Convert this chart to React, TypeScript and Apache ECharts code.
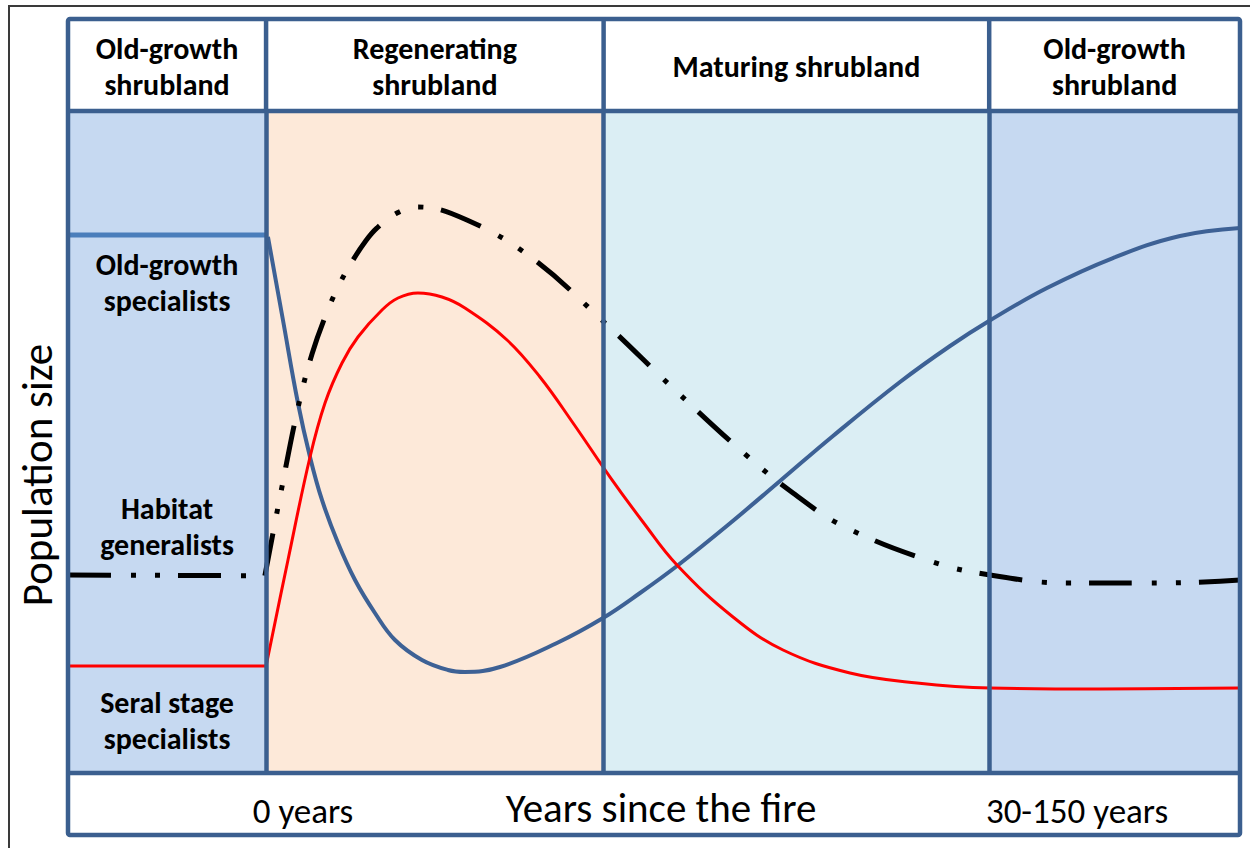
import React, { useEffect, useRef } from "react";
import * as echarts from "echarts";

// ---- data (x: relative time since fire 0-100, y: relative population size 0-100) ----
const stageNames = [
  "Old-growth\nshrubland",
  "Regenerating\nshrubland",
  "Maturing shrubland",
  "Old-growth\nshrubland",
];
const stageBounds = [0, 16.9, 45.7, 78.6, 100];
const stageColors = ["#C6D9F1", "#FDE9D9", "#DBEEF4", "#C6D9F1"];

const guildLabels = ["Old-growth\nspecialists", "Habitat\ngeneralists", "Seral stage\nspecialists"];
const xTickLabels = ["0 years", "30-150 years"];
const xAxisTitle = "Years since the fire";
const yAxisTitle = "Population size";

// Old-growth specialists: before fire (flat) and after fire
const oldGrowthBefore: number[][] = [
  [0, 81.27],
  [16.9, 81.27],
];
const oldGrowthAfter: number[][] = [
  [17.06, 80.97], [18.34, 68.43], [19.62, 55.89], [20.65, 47.73], [21.67, 41.24],
  [23.04, 34.74], [24.49, 29.15], [26.19, 24.17], [27.9, 20.09], [30.2, 17.07],
  [32.42, 15.56], [33.87, 15.26], [36.86, 16.01], [41.72, 19.64], [45.65, 23.41],
  [48.81, 27.19], [51.96, 31.27], [56.31, 37.46], [60.75, 44.11], [65.27, 50.91],
  [70.99, 59.06], [75.26, 64.5], [78.58, 68.28], [83.53, 73.26], [89.16, 77.79],
  [94.88, 81.12], [100, 82.33],
];

// Habitat generalists
const generalistsBefore: number[][] = [
  [0, 29.91],
  [16.8, 29.8],
];
const generalistsAfter: number[][] = [
  [16.8, 29.8], [18.17, 42.45], [19.62, 55.14], [20.82, 63.29], [22.1, 69.64],
  [23.21, 74.02], [24.32, 77.49], [25.34, 80.21], [26.37, 82.33], [28.07, 84.59],
  [29.86, 85.5], [34.04, 83.53], [39.59, 77.79], [45.82, 67.98], [51.79, 57.85],
  [57.94, 47.89], [61.86, 42.3], [66.13, 37.31], [73.81, 31.87], [78.67, 29.91],
  [85.24, 28.7], [93.43, 28.7], [100, 29.15],
];

// Seral stage specialists
const seralBefore: number[][] = [
  [0, 16.16],
  [16.9, 16.16],
];
const seralAfter: number[][] = [
  [16.9, 16.16], [18.77, 32.18], [20.65, 47.73], [21.93, 55.89], [23.38, 61.93],
  [24.74, 65.86], [26.79, 69.94], [28.16, 71.75], [29.86, 72.51], [31.91, 71.9],
  [33.87, 70.24], [37.46, 65.41], [40.27, 59.82], [43.09, 52.87], [46.25, 44.71],
  [49.06, 37.92], [51.96, 31.42], [56.74, 23.56], [61.01, 18.58], [66.72, 15.11],
  [72.44, 13.6], [78.67, 12.84], [88.05, 12.69], [100, 12.84],
];

// ---- layout ----
const W = 1250;
const H = 848;
const GRID_L = 68;
const GRID_R = 1240;
const GRID_T = 111;
const GRID_B = 773;
const FRAME_T = 19;
const FRAME_B = 835;
const BORDER = "#3B5F8F";
const FONT = "Carlito, Lato, 'Open Sans', sans-serif";
const BOLD_SIZE = 30;

const xPx = (v: number) => GRID_L + (v / 100) * (GRID_R - GRID_L);

export default function App() {
  const ref = useRef<HTMLDivElement>(null);

  useEffect(() => {
    if (!ref.current) return;
    const chart = echarts.init(ref.current, null, { renderer: "svg" });

    const graphic: any[] = [];
    // outer thin black frame
    graphic.push({
      type: "polyline",
      z: 0,
      shape: { points: [[9, H], [9, 6], [W, 6]] },
      style: { stroke: "#3a3a3a", lineWidth: 2, fill: "none" },
    });
    // main frame
    graphic.push({
      type: "rect",
      z: 100,
      shape: { x: GRID_L, y: FRAME_T, width: GRID_R - GRID_L, height: FRAME_B - FRAME_T, r: 2 },
      style: { stroke: BORDER, lineWidth: 4.5, fill: "none" },
    });
    graphic.push({
      type: "line",
      z: 100,
      shape: { x1: GRID_L, y1: GRID_T, x2: GRID_R, y2: GRID_T },
      style: { stroke: BORDER, lineWidth: 4.5 },
    });
    graphic.push({
      type: "line",
      z: 100,
      shape: { x1: GRID_L, y1: GRID_B, x2: GRID_R, y2: GRID_B },
      style: { stroke: BORDER, lineWidth: 4.5 },
    });
    // header dividers
    for (let i = 1; i < stageBounds.length - 1; i++) {
      const x = xPx(stageBounds[i]);
      graphic.push({
        type: "line",
        z: 100,
        shape: { x1: x, y1: FRAME_T, x2: x, y2: GRID_T },
        style: { stroke: BORDER, lineWidth: 4.5 },
      });
    }
    // header texts
    stageNames.forEach((name, i) => {
      const cx = (xPx(stageBounds[i]) + xPx(stageBounds[i + 1])) / 2;
      graphic.push({
        type: "text",
        z: 100,
        x: cx,
        y: (FRAME_T + GRID_T) / 2 + 1,
        style: {
          text: name,
          fill: "#000",
          fontFamily: FONT,
          fontWeight: "bold",
          fontSize: BOLD_SIZE,
          lineHeight: 36,
          align: "center",
          verticalAlign: "middle",
        },
      });
    });
    // guild labels
    const guildY = [282, 526, 720];
    guildLabels.forEach((t, i) => {
      graphic.push({
        type: "text",
        z: 100,
        x: (xPx(stageBounds[0]) + xPx(stageBounds[1])) / 2,
        y: guildY[i],
        style: {
          text: t,
          fill: "#000",
          fontFamily: FONT,
          fontWeight: "bold",
          fontSize: BOLD_SIZE,
          lineHeight: 36,
          align: "center",
          verticalAlign: "middle",
        },
      });
    });
    // footer texts
    graphic.push({
      type: "text",
      z: 100,
      x: 303,
      y: 811,
      style: { text: xTickLabels[0], fill: "#000", fontFamily: FONT, fontSize: 35, align: "center", verticalAlign: "middle" },
    });
    graphic.push({
      type: "text",
      z: 100,
      x: 1077,
      y: 811,
      style: { text: xTickLabels[1], fill: "#000", fontFamily: FONT, fontSize: 35, align: "center", verticalAlign: "middle" },
    });
    graphic.push({
      type: "text",
      z: 100,
      x: 661,
      y: 808,
      style: { text: xAxisTitle, fill: "#000", fontFamily: FONT, fontSize: 41, align: "center", verticalAlign: "middle" },
    });
    graphic.push({
      type: "text",
      z: 100,
      x: 37,
      y: 475,
      rotation: Math.PI / 2,
      style: { text: yAxisTitle, fill: "#000", fontFamily: FONT, fontSize: 43, align: "center", verticalAlign: "middle" },
    });

    const smooth = 0.4;

    chart.setOption({
      animation: false,
      backgroundColor: "#ffffff",
      grid: { left: GRID_L, right: W - GRID_R, top: GRID_T, bottom: H - GRID_B, containLabel: false },
      xAxis: { type: "value", min: 0, max: 100, show: false },
      yAxis: { type: "value", min: 0, max: 100, show: false },
      graphic,
      series: [
        {
          name: "stages",
          type: "line",
          data: [[0, 0]],
          showSymbol: false,
          silent: true,
          lineStyle: { width: 0, opacity: 0 },
          markArea: {
            silent: true,
            data: stageColors.map((c, i) => [
              { xAxis: stageBounds[i], itemStyle: { color: c } },
              { xAxis: stageBounds[i + 1] },
            ]),
          },
          markLine: {
            silent: true,
            symbol: "none",
            label: { show: false },
            lineStyle: { color: BORDER, width: 4.5, type: "solid" },
            data: stageBounds.slice(1, -1).map((b) => ({ xAxis: b })),
          },
        },
        {
          name: "Old-growth specialists (before)",
          type: "line",
          data: oldGrowthBefore,
          showSymbol: false,
          lineStyle: { color: "#4A7EBB", width: 5 },
        },
        {
          name: "Old-growth specialists",
          type: "line",
          data: oldGrowthAfter,
          showSymbol: false,
          smooth,
          lineStyle: { color: "#3D6195", width: 4 },
        },
        {
          name: "Habitat generalists (before)",
          type: "line",
          data: generalistsBefore,
          showSymbol: false,
          lineStyle: { color: "#000", width: 5, type: [43, 20, 5, 19, 5, 18] },
        },
        {
          name: "Habitat generalists",
          type: "line",
          data: generalistsAfter,
          showSymbol: false,
          smooth,
          lineStyle: { color: "#000", width: 5, type: [43, 20, 5, 19, 5, 18] },
        },
        {
          name: "Seral stage specialists (before)",
          type: "line",
          data: seralBefore,
          showSymbol: false,
          lineStyle: { color: "#FF0000", width: 3 },
        },
        {
          name: "Seral stage specialists",
          type: "line",
          data: seralAfter,
          showSymbol: false,
          smooth,
          lineStyle: { color: "#FF0000", width: 3 },
        },
      ],
    });

    return () => chart.dispose();
  }, []);

  return (
    <div
      ref={ref}
      style={{ position: "absolute", left: 0, top: 0, width: W, height: H, background: "#fff" }}
    />
  );
}
